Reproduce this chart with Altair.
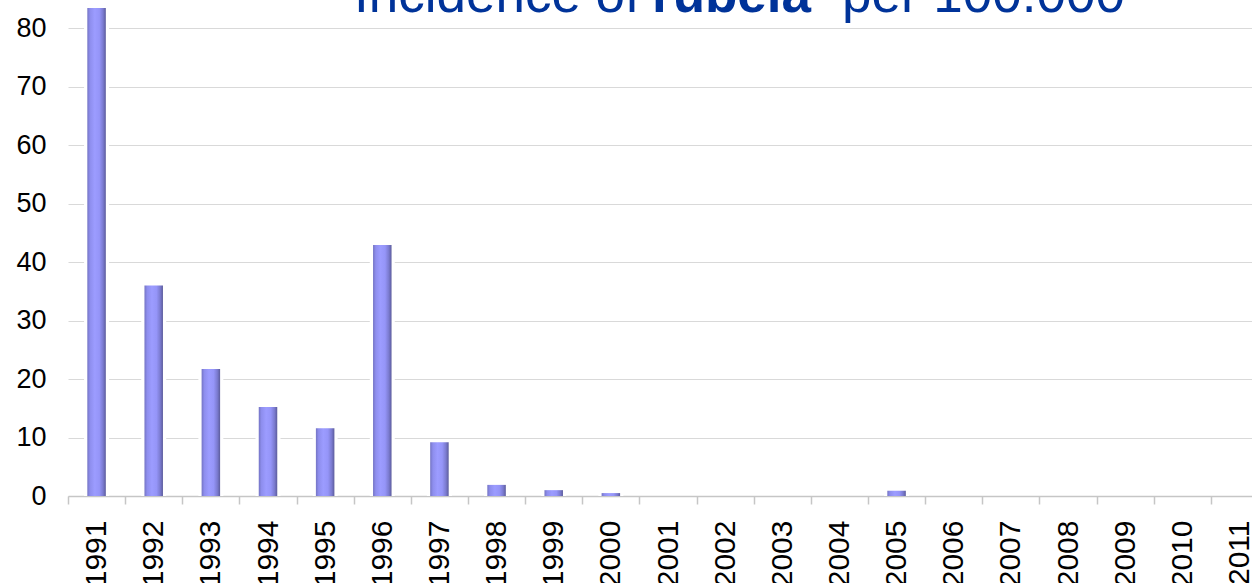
import altair as alt
import pandas as pd

# Rubella incidence per 100 000 inhabitants, by year
years = [str(y) for y in range(1991, 2012)]
incidence = [83.4, 36.0, 21.7, 15.2, 11.6, 42.9, 9.2, 1.9, 1.0, 0.5,
             0, 0, 0, 0, 0.9, 0, 0, 0, 0, 0, 0]

# Title pieces: text, weight and left offset
title_parts = ["Incidence of", "rubela", "per 100.000"]
title_weights = ["normal", "bold", "normal"]
title_x = [286, 584, 774]

df = pd.DataFrame({"year": years, "value": incidence})

FONT = "Liberation Sans"
TITLE_BLUE = "#003399"

x_enc = alt.X(
    "year:N",
    sort=None,
    scale=alt.Scale(range=[0, 1200], paddingInner=0, paddingOuter=0),
    axis=alt.Axis(
        title=None,
        labelAngle=-90,
        labelAlign="right",
        labelBaseline="middle",
        labelFontSize=30,
        labelColor="#000000",
        labelPadding=16,
        tickBand="extent",
        tickSize=8,
        tickColor="#c6c6c6",
        tickWidth=1.5,
        domainColor="#c6c6c6",
        domainWidth=1.5,
        grid=False,
    ),
)
y_enc = alt.Y(
    "value:Q",
    scale=alt.Scale(domain=[0, 80], nice=False, zero=True),
    axis=alt.Axis(
        title=None,
        values=[0, 10, 20, 30, 40, 50, 60, 70, 80],
        labelFontSize=27,
        labelColor="#000000",
        labelPadding=22,
        ticks=False,
        domain=False,
        gridColor="#d9d9d9",
        gridWidth=1.2,
    ),
)

base = alt.Chart(df).encode(x=x_enc, y=y_enc)

# white halo behind each column interrupts the gridlines around it
halo = base.mark_bar(size=25, color="white")

bar_fill = alt.Gradient(
    gradient="linear",
    x1=0, y1=0, x2=1, y2=0,
    stops=[
        alt.GradientStop(offset=0.0, color="#7474c4"),
        alt.GradientStop(offset=0.15, color="#8e8eee"),
        alt.GradientStop(offset=0.4, color="#9c9cff"),
        alt.GradientStop(offset=0.65, color="#9595f8"),
        alt.GradientStop(offset=0.85, color="#7b7bd0"),
        alt.GradientStop(offset=1.0, color="#5c5c9c"),
    ],
)
bars = base.mark_bar(size=18.5, color=bar_fill)

title_layers = []
for text, weight, xpos in zip(title_parts, title_weights, title_x):
    title_layers.append(
        alt.Chart(pd.DataFrame({"t": [text]}))
        .mark_text(
            font=FONT, fontSize=53, fontWeight=weight, color=TITLE_BLUE,
            align="left", baseline="alphabetic",
        )
        .encode(text="t:N", x=alt.value(xpos), y=alt.value(-16))
    )

chart = (
    alt.layer(halo, bars, *title_layers)
    .properties(
        width=1184,
        height=468,
        autosize=alt.AutoSizeParams(type="none"),
        padding={"left": 68, "top": 28, "right": 0, "bottom": 87},
        background="white",
    )
    .configure_view(stroke=None)
    .configure_axis(labelFont=FONT)
)

chart.save("out.html", embed_options={"renderer": "svg", "actions": False})
